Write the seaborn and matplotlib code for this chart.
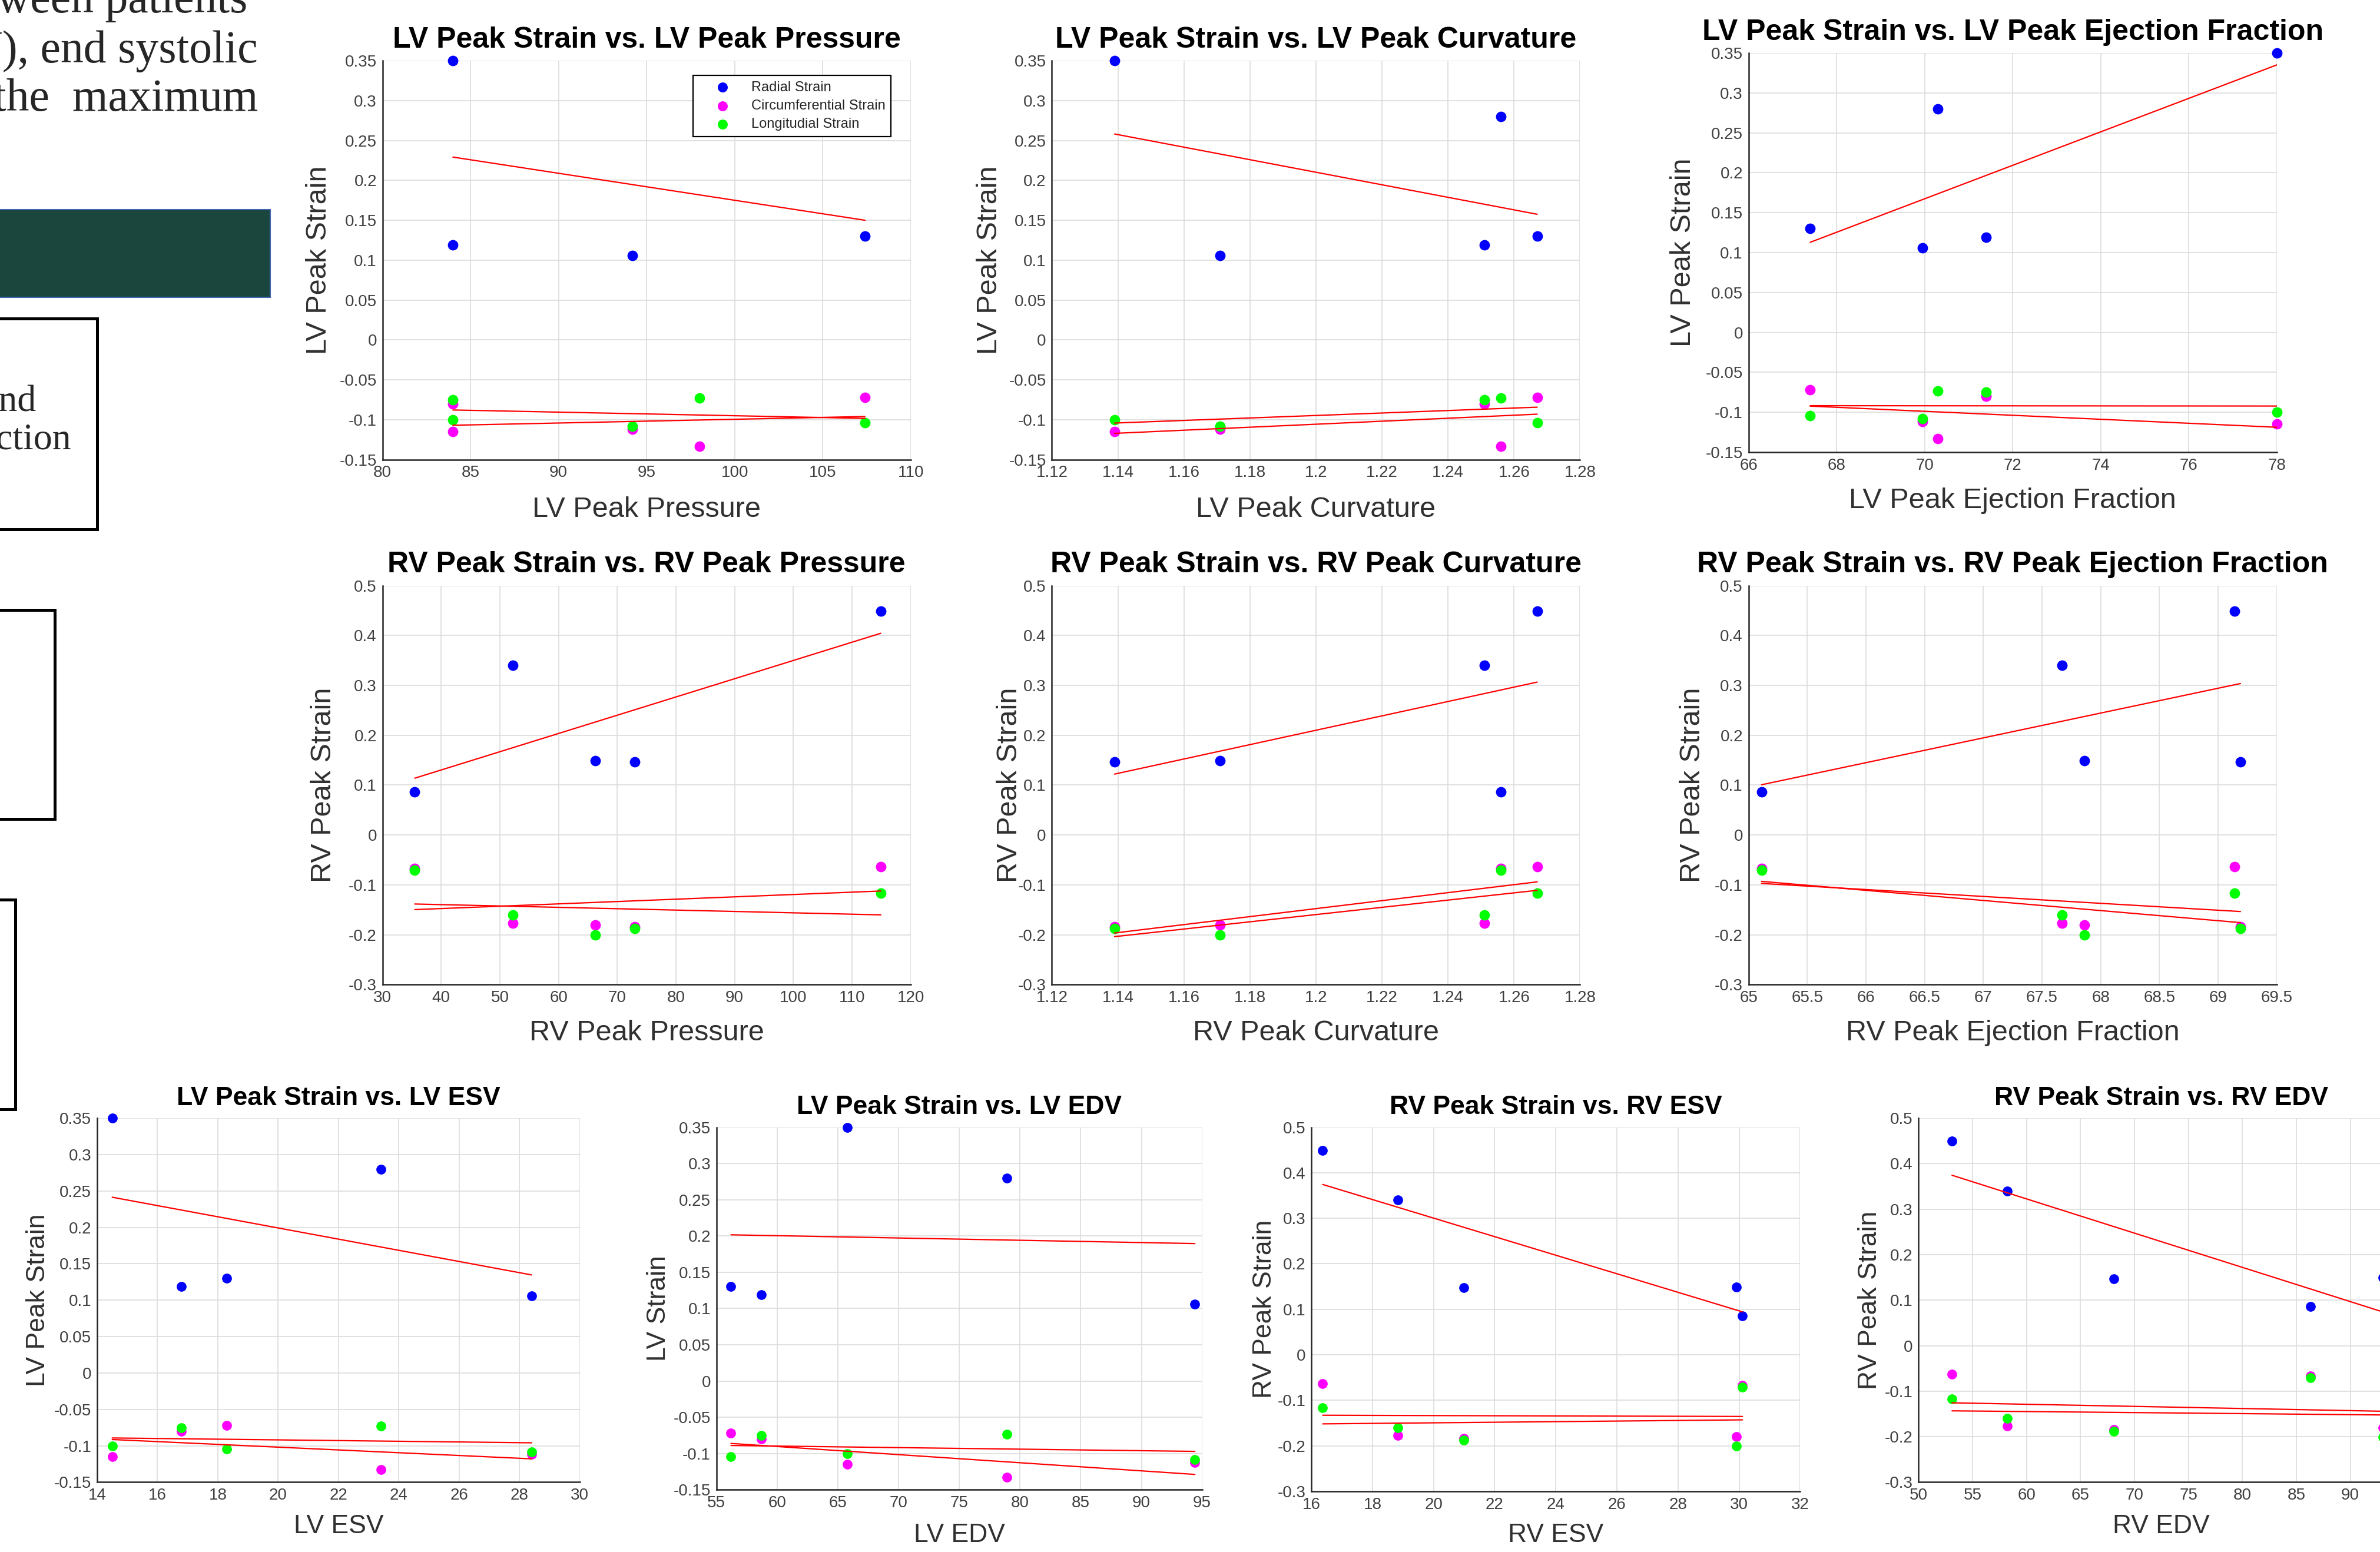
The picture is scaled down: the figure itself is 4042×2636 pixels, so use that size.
#Scatter plots of LV / RV peak strain against haemodynamic measures
#Each panel shows radial, circumferential and longitudinal strain with a linear fit

import seaborn as sns
import matplotlib.pyplot as plt
import matplotlib.patches as patches
import numpy as np
from matplotlib.ticker import FuncFormatter

# LV patients (same order in every array)
lv_radial = [0.350, 0.119, 0.106, 0.130, 0.280]
lv_circ = [-0.115, -0.080, -0.112, -0.072, -0.133]
lv_long = [-0.100, -0.075, -0.108, -0.104, -0.073]
lv_pressure = [84.0, 84.0, 94.2, 107.4, 98.0]
lv_curvature = [1.139, 1.251, 1.171, 1.267, 1.256]
lv_ef = [78.0, 71.4, 69.95, 67.4, 70.3]
lv_esv = [14.5, 16.8, 28.4, 18.3, 23.4]
lv_edv = [65.8, 58.7, 94.4, 56.2, 78.9]

# RV patients
rv_radial = [0.086, 0.340, 0.149, 0.147, 0.449]
rv_circ = [-0.067, -0.177, -0.180, -0.184, -0.063]
rv_long = [-0.071, -0.160, -0.201, -0.188, -0.117]
rv_pressure = [35.5, 52.2, 66.3, 73.0, 114.9]
rv_curvature = [1.256, 1.251, 1.171, 1.139, 1.267]
rv_ef = [65.11, 67.67, 67.86, 69.19, 69.14]
rv_esv = [30.11, 18.83, 29.92, 20.98, 16.37]
rv_edv = [86.3, 58.2, 93.0, 68.1, 53.1]

strain_names = ['Radial Strain', 'Circumferential Strain', 'Longitudial Strain']
strain_colors = ['#0000ff', '#ff00ff', '#00ff00']

lv_yticks = np.round(np.arange(-0.15, 0.351, 0.05), 3)
rv_yticks = np.round(np.arange(-0.3, 0.51, 0.1), 3)

sns.set_style("white")
plt.rcParams['font.family'] = ['Liberation Sans', 'DejaVu Sans']
plt.rcParams['axes.unicode_minus'] = False

W, H = 1568, 1023  # layout measured on the shrunk slide
fig = plt.figure(figsize=(40.42, 26.36), dpi=100)
fig.patch.set_facecolor('white')


def rect(l, t, r, b):
    return [l / W, 1 - b / H, (r - l) / W, (b - t) / H]


def fmt(v, pos):
    if abs(v) < 1e-9:
        return "0"
    return f"{v:g}"


panels = [
    dict(x=lv_pressure, s=(lv_radial, lv_circ, lv_long), xt=np.arange(80, 111, 5), yt=lv_yticks,
         title='LV Peak Strain vs. LV Peak Pressure', xl='LV Peak Pressure', yl='LV Peak Strain',
         box=(252, 40, 600, 303), xly=336, ylx=210, big=True, legend=True),
    dict(x=lv_curvature, s=(lv_radial, lv_circ, lv_long), xt=np.round(np.arange(1.12, 1.281, 0.02), 2), yt=lv_yticks,
         title='LV Peak Strain vs. LV Peak Curvature', xl='LV Peak Curvature', yl='LV Peak Strain',
         box=(693, 40, 1041, 303), xly=336, ylx=652, big=True),
    dict(x=lv_ef, s=(lv_radial, lv_circ, lv_long), xt=np.arange(66, 79, 2), yt=lv_yticks,
         title='LV Peak Strain vs. LV Peak Ejection Fraction', xl='LV Peak Ejection Fraction', yl='LV Peak Strain',
         box=(1152, 35, 1500, 298), xly=330, ylx=1109, big=True),
    dict(x=rv_pressure, s=(rv_radial, rv_circ, rv_long), xt=np.arange(30, 121, 10), yt=rv_yticks,
         title='RV Peak Strain vs. RV Peak Pressure', xl='RV Peak Pressure', yl='RV Peak Strain',
         box=(252, 386, 600, 649), xly=681, ylx=213, big=True),
    dict(x=rv_curvature, s=(rv_radial, rv_circ, rv_long), xt=np.round(np.arange(1.12, 1.281, 0.02), 2), yt=rv_yticks,
         title='RV Peak Strain vs. RV Peak Curvature', xl='RV Peak Curvature', yl='RV Peak Strain',
         box=(693, 386, 1041, 649), xly=681, ylx=665, big=True),
    dict(x=rv_ef, s=(rv_radial, rv_circ, rv_long), xt=np.round(np.arange(65, 69.51, 0.5), 1), yt=rv_yticks,
         title='RV Peak Strain vs. RV Peak Ejection Fraction', xl='RV Peak Ejection Fraction', yl='RV Peak Strain',
         box=(1152, 386, 1500, 649), xly=681, ylx=1115, big=True),
    dict(x=lv_esv, s=(lv_radial, lv_circ, lv_long), xt=np.arange(14, 31, 2), yt=lv_yticks,
         title='LV Peak Strain vs. LV ESV', xl='LV ESV', yl='LV Peak Strain',
         box=(64, 737, 382, 977), xly=1006, ylx=25, big=False),
    dict(x=lv_edv, s=(lv_radial, lv_circ, lv_long), xt=np.arange(55, 96, 5), yt=lv_yticks,
         title='LV Peak Strain vs. LV EDV', xl='LV EDV', yl='LV Strain',
         box=(472, 743, 792, 982), xly=1012, ylx=434, big=False),
    dict(x=rv_esv, s=(rv_radial, rv_circ, rv_long), xt=np.arange(16, 33, 2), yt=rv_yticks,
         title='RV Peak Strain vs. RV ESV', xl='RV ESV', yl='RV Peak Strain',
         box=(864, 743, 1186, 983), xly=1012, ylx=833, big=False),
    dict(x=rv_edv, s=(rv_radial, rv_circ, rv_long), xt=np.arange(50, 96, 5), yt=rv_yticks,
         title='RV Peak Strain vs. RV EDV', xl='RV EDV', yl='RV Peak Strain',
         box=(1264, 737, 1584, 977), xly=1006, ylx=1232, big=False),
]

for p in panels:
    l, t, r, b = p['box']
    ax = fig.add_axes(rect(l, t, r, b))
    big = p['big']
    dot = 165 if big else 145
    for vals, col, lab in zip(p['s'], strain_colors, strain_names):
        sns.scatterplot(x=p['x'], y=vals, color=col, s=dot, linewidth=0, ax=ax, label=lab,
                        zorder=3, clip_on=False)
    for vals in p['s']:
        sns.regplot(x=p['x'], y=vals, scatter=False, ci=None, truncate=True, color='#ff0000',
                    line_kws={'lw': 1.6, 'zorder': 4}, ax=ax)
    if ax.get_legend() is not None:
        ax.get_legend().remove()

    ax.set_xlim(p['xt'][0], p['xt'][-1])
    ax.set_ylim(p['yt'][0], p['yt'][-1])
    ax.set_xticks(p['xt'])
    ax.set_yticks(p['yt'])
    ax.xaxis.set_major_formatter(FuncFormatter(fmt))
    ax.yaxis.set_major_formatter(FuncFormatter(fmt))

    ax.grid(True, color='#dcdcdc', lw=1.2)
    ax.set_axisbelow(True)
    ax.spines[['top', 'right']].set_visible(False)
    for s in ['left', 'bottom']:
        ax.spines[s].set_color('#262626')
        ax.spines[s].set_linewidth(1.8)
    ax.tick_params(direction='in', length=7, width=1.4, color='#262626',
                   labelsize=20, labelcolor='#404040', pad=7)

    title_fs = 36 if big else 32
    label_fs = 35 if big else 32
    ax.set_title(p['title'], fontsize=title_fs, fontweight='bold', color='black', pad=16)
    ax.set_xlabel(p['xl'], fontsize=label_fs, color='#303030')
    ax.set_ylabel(p['yl'], fontsize=label_fs, color='#303030')
    ax.xaxis.set_label_coords(0.5, -(p['xly'] - b) / (b - t))
    ax.xaxis.label.set_va('center')
    ax.yaxis.set_label_coords((p['ylx'] - l) / (r - l), 0.5)
    ax.yaxis.label.set_va('center')

    if p.get('legend'):
        handles = ax.collections[:3]
        leg = ax.legend(handles, strain_names, loc='upper right', bbox_to_anchor=(0.963, 0.963),
                        borderaxespad=0, fontsize=17, markerscale=0.95, frameon=True, fancybox=False,
                        framealpha=1, facecolor='white', edgecolor='black', labelspacing=0.4,
                        handletextpad=0.4, borderpad=0.4, handlelength=3.4)
        leg.get_frame().set_linewidth(1.6)
        leg.set_zorder(10)

# Slide elements to the left of the charts
serif = ['Liberation Serif', 'DejaVu Serif']
fig.text(163 / W, 1 - 8 / H, 'between patients', ha='right', va='baseline', fontsize=56, family=serif)
fig.text(170 / W, 1 - 41 / H, 'EDV), end systolic', ha='right', va='baseline', fontsize=56, family=serif)
fig.text(170 / W, 1 - 73 / H, 'the  maximum', ha='right', va='baseline', fontsize=56, family=serif)

green = patches.Rectangle((-5 / W, 1 - 196 / H), 183 / W, 58 / H, transform=fig.transFigure,
                          facecolor='#1b463d', edgecolor='#4068b0', lw=1.5)
fig.add_artist(green)

for right, top, bottom in [(64, 210, 349), (36, 402, 540), (10, 593, 731)]:
    box = patches.Rectangle((-20 / W, 1 - bottom / H), (right + 20) / W, (bottom - top) / H,
                            transform=fig.transFigure, facecolor='none', edgecolor='black', lw=3.6)
    fig.add_artist(box)

fig.text(24 / W, 1 - 271 / H, 'and', ha='right', va='baseline', fontsize=46, family=serif)
fig.text(47 / W, 1 - 296 / H, 'fraction', ha='right', va='baseline', fontsize=46, family=serif)

fig.savefig('out.png', dpi=100, facecolor='white')
